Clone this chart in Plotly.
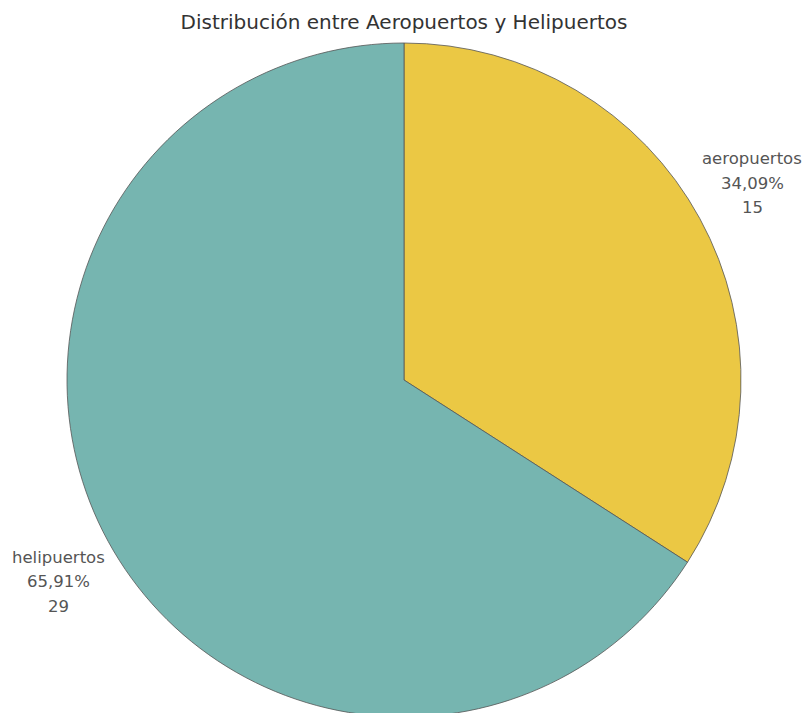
import plotly.graph_objects as go

# Airport counts by type
categories = ["aeropuertos", "helipuertos"]
counts = [15, 29]
colors = ["#EBC844", "#76B5B0"]

total = sum(counts)
percents = [c / total * 100 for c in counts]


def fmt_pct(p):
    return f"{p:.2f}%".replace(".", ",")


W, H = 808, 720
M_L, M_R, M_T, M_B = 67, 67, 43, 3
FONT = "'DejaVu Sans', sans-serif"

fig = go.Figure(
    go.Pie(
        labels=categories,
        values=counts,
        sort=False,
        direction="clockwise",
        rotation=0,
        marker=dict(colors=colors, line=dict(color="#555555", width=0.8)),
        textinfo="none",
        hoverinfo="label+value+percent",
        showlegend=False,
    )
)

# Slice labels beside the pie: centre x and first-line y in pixels
label_pos = {
    "aeropuertos": (752, 159),
    "helipuertos": (58, 557),
}
LINE_PITCH = 24.5
plot_w = W - M_L - M_R
plot_h = H - M_T - M_B
for cat, cnt, pct in zip(categories, counts, percents):
    px, py = label_pos[cat]
    for i, line in enumerate([cat, fmt_pct(pct), str(cnt)]):
        fig.add_annotation(
            x=(px - M_L) / plot_w,
            y=1 - (py + i * LINE_PITCH - M_T) / plot_h,
            xref="paper",
            yref="paper",
            xanchor="center",
            yanchor="middle",
            text=line,
            showarrow=False,
            font=dict(family=FONT, size=16.5, color="#555555"),
        )

fig.update_layout(
    width=W,
    height=H,
    margin=dict(l=M_L, r=M_R, t=M_T, b=M_B),
    paper_bgcolor="white",
    plot_bgcolor="white",
    title=dict(
        text="Distribución entre Aeropuertos y Helipuertos",
        x=0.5,
        xanchor="center",
        y=1 - 22 / H,
        yanchor="middle",
        font=dict(family=FONT, size=20, color="#333333"),
    ),
)

fig.write_html("out.html")
